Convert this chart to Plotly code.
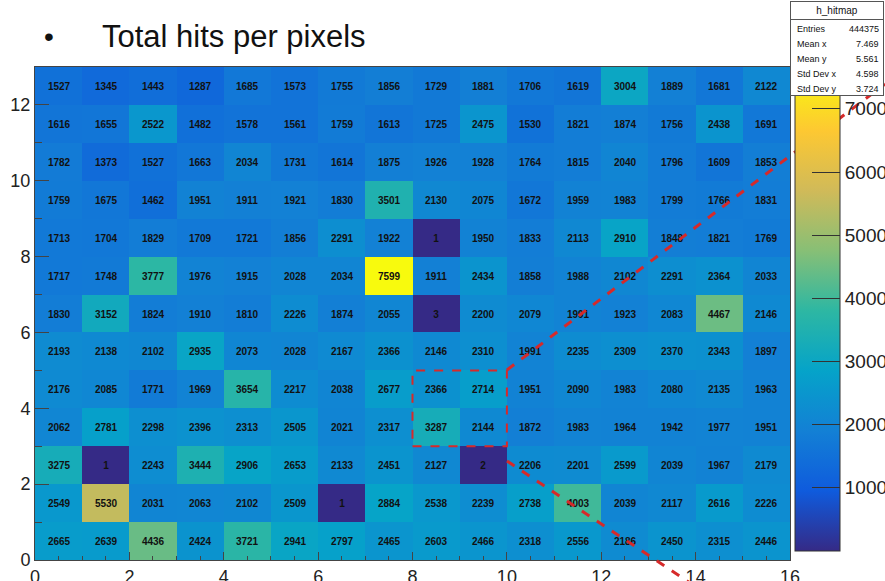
import plotly.graph_objects as go

# hit counts per pixel, rows from y=0 (bottom) to y=12 (top), 16 columns each
row0 = [2665, 2639, 4436, 2424, 3721, 2941, 2797, 2465, 2603, 2466, 2318, 2556, 2186, 2450, 2315, 2446]
row1 = [2549, 5530, 2031, 2063, 2102, 2509, 1, 2884, 2538, 2239, 2738, 4003, 2039, 2117, 2616, 2226]
row2 = [3275, 1, 2243, 3444, 2906, 2653, 2133, 2451, 2127, 2, 2206, 2201, 2599, 2039, 1967, 2179]
row3 = [2062, 2781, 2298, 2396, 2313, 2505, 2021, 2317, 3287, 2144, 1872, 1983, 1964, 1942, 1977, 1951]
row4 = [2176, 2085, 1771, 1969, 3654, 2217, 2038, 2677, 2366, 2714, 1951, 2090, 1983, 2080, 2135, 1963]
row5 = [2193, 2138, 2102, 2935, 2073, 2028, 2167, 2366, 2146, 2310, 1991, 2235, 2309, 2370, 2343, 1897]
row6 = [1830, 3152, 1824, 1910, 1810, 2226, 1874, 2055, 3, 2200, 2079, 1991, 1923, 2083, 4467, 2146]
row7 = [1717, 1748, 3777, 1976, 1915, 2028, 2034, 7599, 1911, 2434, 1858, 1988, 2102, 2291, 2364, 2033]
row8 = [1713, 1704, 1829, 1709, 1721, 1856, 2291, 1922, 1, 1950, 1833, 2113, 2910, 1848, 1821, 1769]
row9 = [1759, 1675, 1462, 1951, 1911, 1921, 1830, 3501, 2130, 2075, 1672, 1959, 1983, 1799, 1766, 1831]
row10 = [1782, 1373, 1527, 1663, 2034, 1731, 1614, 1875, 1926, 1928, 1764, 1815, 2040, 1796, 1609, 1853]
row11 = [1616, 1655, 2522, 1482, 1578, 1561, 1759, 1613, 1725, 2475, 1530, 1821, 1874, 1756, 2438, 1691]
row12 = [1527, 1345, 1443, 1287, 1685, 1573, 1755, 1856, 1729, 1881, 1706, 1619, 3004, 1889, 1681, 2122]
z = [row0, row1, row2, row3, row4, row5, row6, row7, row8, row9, row10, row11, row12]
xc = [i + 0.5 for i in range(16)]
yc = [j + 0.5 for j in range(13)]

stats_names = ["Entries", "Mean x", "Mean y", "Std Dev x", "Std Dev y"]
stats_vals = ["444375", "7.469", "5.561", "4.598", "3.724"]

# ROOT kBird palette
bird = [
    (0.2082, 0.1664, 0.5293), (0.0592, 0.3599, 0.8684), (0.0780, 0.5041, 0.8385),
    (0.0232, 0.6419, 0.7914), (0.1802, 0.7178, 0.6425), (0.5301, 0.7492, 0.4662),
    (0.8186, 0.7328, 0.3499), (0.9956, 0.7862, 0.1968), (0.9764, 0.9832, 0.0539),
]
cscale = [[i / 8, "rgb(%d,%d,%d)" % tuple(int(c * 255) for c in col)] for i, col in enumerate(bird)]

def px(v):
    return (v - 35) / 755

def py(v):
    return (560 - v) / 493

fig = go.Figure(go.Heatmap(
    x=xc, y=yc, z=z, colorscale=cscale, zmin=0, zmax=7599,
    texttemplate="%{z}", textfont=dict(size=10, color="#111", family="Liberation Sans", weight="bold"),
    colorbar=dict(x=px(795), xanchor="left", xpad=0, y=py(61), yanchor="top", len=(561 - 61) / 493,
                  thickness=45, outlinewidth=1, outlinecolor="#333",
                  tickvals=[1000, 2000, 3000, 4000, 5000, 6000, 7000],
                  ticks="inside", ticklen=28, tickcolor="#333",
                  tickfont=dict(size=19, family="Liberation Sans", color="#222")),
))

fig.update_xaxes(range=[0, 16], dtick=2, ticks="inside", ticklen=8, showgrid=False, zeroline=False,
                 showline=True, linecolor="#444", mirror=True,
                 minor=dict(dtick=0.5, ticks="inside", ticklen=4),
                 tickfont=dict(size=18, family="Liberation Sans", color="#222"))
fig.update_yaxes(range=[0, 13], dtick=2, ticks="inside", ticklen=14, showgrid=False, zeroline=False,
                 showline=True, linecolor="#444", mirror=True,
                 minor=dict(dtick=1, ticks="inside", ticklen=7),
                 tickfont=dict(size=18, family="Liberation Sans", color="#222"))

red = dict(color="#d62a2a", width=3, dash="dash")
shapes = [
    dict(type="rect", xref="x", yref="y", x0=8, x1=10, y0=3, y1=5, line=dict(color="#d62a2a", width=2, dash="dash")),
    dict(type="line", xref="paper", yref="paper", x0=px(507), y0=py(370), x1=px(885), y1=py(84), line=red),
    dict(type="line", xref="paper", yref="paper", x0=px(507), y0=py(461), x1=px(690), y1=py(583), line=red),
]

ann = [
    dict(text="•", x=px(42), y=py(36), xanchor="left", yanchor="middle",
         font=dict(size=28, family="Liberation Sans", color="#111")),
    dict(text="Total hits per pixels", x=px(100), y=py(36), xanchor="left", yanchor="middle",
         font=dict(size=31, family="Liberation Sans", color="#111")),
    # stats box background
    dict(text="", x=px(790), y=py(1), xanchor="left", yanchor="top", width=92, height=93,
         bgcolor="white", bordercolor="#555", borderwidth=1, borderpad=0),
    dict(text="h_hitmap", x=px(790), y=py(1), xanchor="left", yanchor="top", width=92, height=17,
         bordercolor="#555", borderwidth=1, borderpad=0,
         font=dict(size=10, family="Liberation Sans", color="#111")),
]
for i, (n, v) in enumerate(zip(stats_names, stats_vals)):
    yy = py(29 + 15 * i)
    ann.append(dict(text=n, x=px(795), y=yy, xanchor="left", yanchor="middle",
                    font=dict(size=9, family="Liberation Sans", color="#111")))
    ann.append(dict(text=v, x=px(881), y=yy, xanchor="right", yanchor="middle",
                    font=dict(size=9, family="Liberation Sans", color="#111")))
for a in ann:
    a.update(xref="paper", yref="paper", showarrow=False)

fig.update_layout(width=885, height=581, margin=dict(l=35, r=95, t=67, b=21, autoexpand=False),
                  paper_bgcolor="white", plot_bgcolor="white",
                  shapes=shapes, annotations=ann, showlegend=False)
fig.write_html("out.html", config={"displayModeBar": False})

# drop the default page margin so the figure fills the window
with open("out.html") as f:
    page = f.read()
page = page.replace("<body>", '<body style="margin:0;overflow:hidden">', 1)
with open("out.html", "w") as f:
    f.write(page)
